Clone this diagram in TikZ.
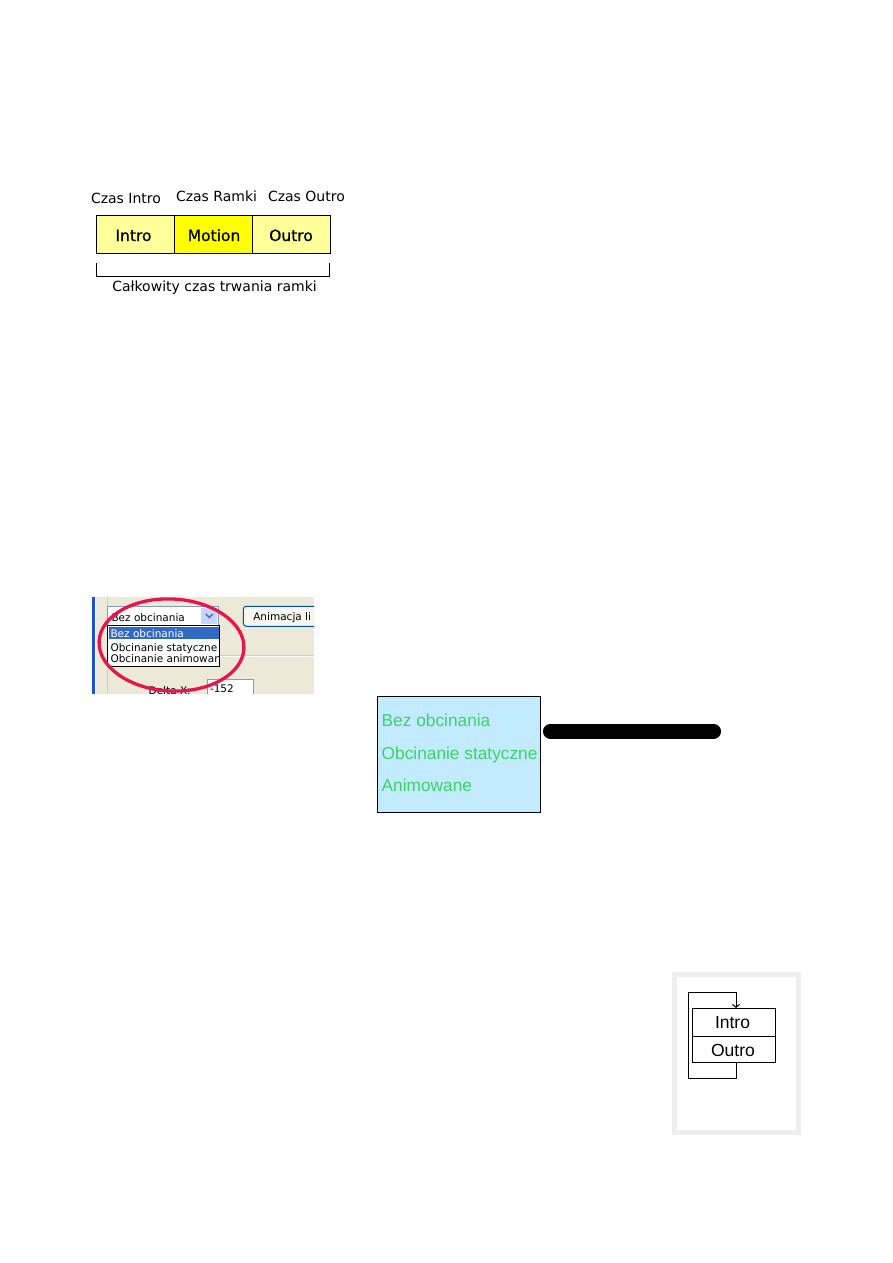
\documentclass[tikz,border=0pt]{standalone}
\usepackage{fontspec}
\setmainfont{DejaVu Sans}
\newfontfamily\arialf{Liberation Sans}
\newfontfamily\verdb[FakeBold=0.7]{DejaVu Sans}
\usetikzlibrary{arrows.meta}
\definecolor{lyellow}{HTML}{FFFF99}
\definecolor{byellow}{HTML}{FFFF00}
\definecolor{xpbg}{HTML}{ECE9D8}
\definecolor{xpblue}{HTML}{316AC5}
\definecolor{xpborder}{HTML}{7F9DB9}
\definecolor{xpbar}{HTML}{1C4FE0}
\definecolor{xpbtn}{HTML}{C6D6FA}
\definecolor{xpgroove}{HTML}{D0CEBF}
\definecolor{redring}{HTML}{E8144C}
\definecolor{lblue}{HTML}{C2EBFF}
\definecolor{tgreen}{HTML}{3CD264}
\definecolor{framegray}{HTML}{EEEEEE}
\begin{document}
\begin{tikzpicture}[x=1pt,y=-1pt,
  txt/.style={inner sep=0pt,outer sep=0pt},
  lbl/.style={txt,font=\fontsize{14}{16}\selectfont},
  boxt/.style={txt,anchor=base,font=\verdb\fontsize{15.5}{17}\selectfont},
  xpt/.style={txt,anchor=base west,font=\fontsize{10.5}{12}\selectfont},
  greent/.style={txt,anchor=base west,text=tgreen,font=\arialf\fontsize{17.3}{19}\selectfont},
  ardt/.style={txt,font=\arialf\fontsize{17.5}{19}\selectfont},
  thin1/.style={line width=1pt}]
\useasboundingbox (0,0) rectangle (893,1263);
\fill[white] (0,0) rectangle (893,1263);

% ---------- top timing diagram ----------
\node[lbl,anchor=base west] (lci) at (91,203) {Czas Intro};
\node[lbl,anchor=base west] (lcr) at (176,201.5) {Czas Ramki};
\node[lbl,anchor=base west] (lco) at (268,201.5) {Czas Outro};
\draw[thin1,fill=lyellow] (96,215) rectangle (174.7,253.3);
\draw[thin1,fill=byellow] (174.7,215) rectangle (252.3,253.3);
\draw[thin1,fill=lyellow] (252.3,215) rectangle (330.7,253.3);
\node[boxt] (tintro) at (133.5,241) {Intro};
\node[boxt] (tmotion) at (214,241) {Motion};
\node[boxt] (toutro) at (291,241) {Outro};
\coordinate (bl) at (96.7,263);
\coordinate (br) at (329.3,263);
\draw[thin1] (bl) -- (96.7,276) -- (329.3,276) -- (br);
\node[lbl,anchor=base west] (ltot) at (112.3,291) {Całkowity czas trwania ramki};

% ---------- screenshot ----------
\begin{scope}
\clip (92,597) rectangle (314,693.5);
\fill[xpbg] (92,597) rectangle (314,694);
\fill[xpbar] (92,597) rectangle (95,694);
\draw[white,line width=0.8pt] (95.8,597) -- (95.8,694);
\draw[xpgroove,line width=1pt] (107.5,597) -- (107.5,694);
\draw[xpgroove,line width=1pt] (107.5,655.7) -- (314,655.7);
\draw[white,line width=0.8pt] (107.5,656.7) -- (314,656.7);
% combo
\draw[xpborder,fill=white,line width=1pt] (107,606) rectangle (218,625);
\fill[xpbtn] (201.3,607.7) rectangle (217.3,624.3);
\draw[xpborder!70!blue,line width=1.6pt] (205.8,614) -- (209.3,617.5) -- (212.8,614);
\node[xpt] (cbsel) at (111.5,621) {Bez obcinania};
% button
\draw[fill=white!60!xpbg,draw=black!40!blue!70!cyan,line width=1pt,rounded corners=3pt] (243.3,606.3) rectangle (330,626.3);
\node[xpt] (btn) at (253.3,620.7) {Animacja li};
% drop-down list
\draw[black,fill=white,line width=1pt] (107.7,625.3) rectangle (219.7,666.7);
\fill[xpblue] (108.7,626.7) rectangle (218.7,639.3);
\begin{scope}
\clip (108.7,625.3) rectangle (218.7,666.7);
\node[xpt,text=white] (it1) at (110.5,637.7) {Bez obcinania};
\node[xpt] (it2) at (110.5,651) {Obcinanie statyczne};
\node[xpt] (it3) at (110.5,662.7) {Obcinanie animowane};
\end{scope}
% delta x
\node[xpt] (dx) at (148.7,694) {Delta X:};
\draw[xpborder,fill=white,line width=1pt] (207,679.3) rectangle (253.5,700);
\node[xpt] (dxv) at (210,692.5) {-152};
% red ring
\draw[redring,line width=3.3pt,rotate around={-3:(171.5,645)}] (171.5,645) ellipse [x radius=72.5, y radius=46];
\end{scope}

% ---------- blue box ----------
\draw[thin1,fill=lblue] (377.3,696) rectangle (540,812.3);
\node[greent] (g1) at (381.7,726.7) {Bez obcinania};
\node[greent] (g2) at (381.7,759.3) {Obcinanie statyczne};
\node[greent] (g3) at (381.7,791) {Animowane};
\coordinate (barl) at (550.3,731.3);
\coordinate (barr) at (713.7,731.3);
\draw[line width=14.7pt,line cap=round] (barl) -- (barr);

% ---------- bottom-right loop ----------
\draw[framegray,line width=5pt] (674,974.5) rectangle (798.5,1132.5);
\node[thin1,draw,txt,minimum width=83pt,minimum height=28pt,anchor=north west] (bintro) at (692,1008) {};
\node[thin1,draw,txt,minimum width=83pt,minimum height=26pt,anchor=north west] (boutro) at (692,1036) {};
\node[ardt,anchor=base] (ti) at (732.5,1028.3) {Intro};
\node[ardt,anchor=base] (to) at (733,1056.5) {Outro};
\coordinate (lp1) at (736.5,1078);
\coordinate (lp2) at (688,1078);
\coordinate (lp3) at (688,992);
\coordinate (lp4) at (736,992);
\draw[thin1,-{Straight Barb[length=3pt,width=7pt]}] (boutro.south -| lp1) -- (lp1) -- (lp2) -- (lp3) -- (lp4) -- (bintro.north -| lp4);
\end{tikzpicture}
\end{document}
